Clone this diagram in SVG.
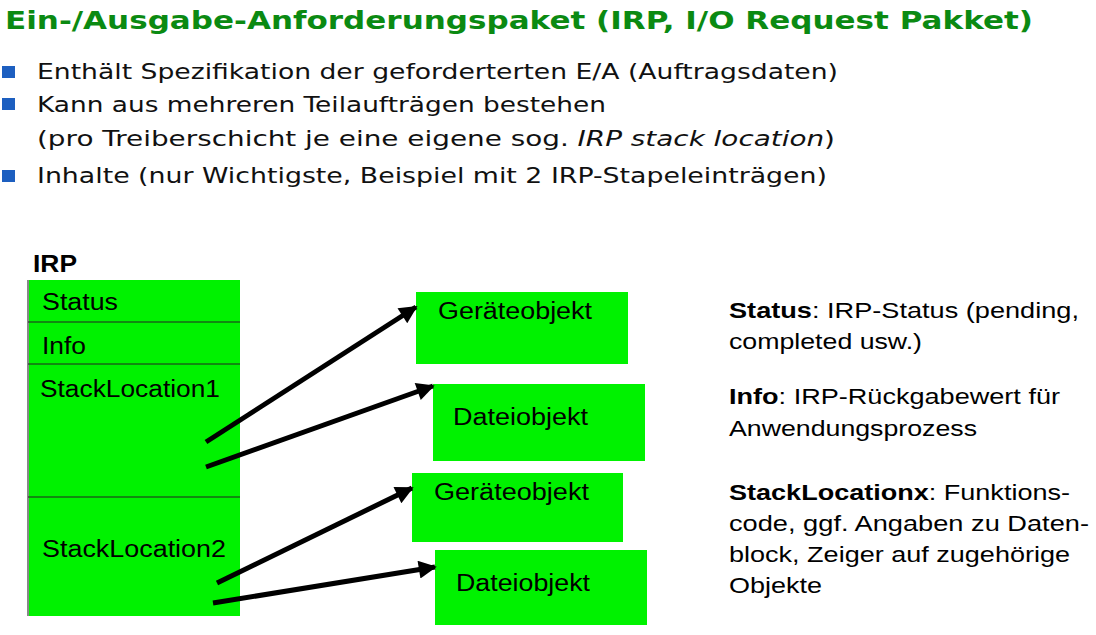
<svg xmlns="http://www.w3.org/2000/svg" width="1096" height="635" viewBox="0 0 1096 635">
  <style>
    .title { font-family: "DejaVu Sans", Verdana, sans-serif; font-weight: bold; font-size: 24px; fill: #0b8a12; }
    .bul { font-family: "DejaVu Sans", Verdana, sans-serif; font-size: 20.5px; fill: #111; }
    .sq { fill: #1d5fc0; }
    .lbl { font-family: "Liberation Sans", Arial, sans-serif; font-size: 23px; fill: #000; }
    .desc { font-family: "Liberation Sans", Arial, sans-serif; font-size: 22.5px; fill: #000; }
    .box { fill: #00f200; stroke: none; }
    .div { stroke: #222; stroke-width: 1; }
    .conn { stroke: #000; stroke-width: 5; fill: none; marker-end: url(#ah); }
  </style>
  <defs>
    <marker id="ah" viewBox="0 0 10 10" refX="9" refY="5" markerWidth="4.2" markerHeight="3.6" orient="auto" markerUnits="strokeWidth">
      <path d="M0,0 L10,5 L0,10 z" fill="#000"/>
    </marker>
  </defs>

  <rect width="1096" height="635" fill="#fff"/>

  <!-- heading and bullet list -->
  <g id="header">
    <text class="title" x="5" y="29" textLength="1028" lengthAdjust="spacingAndGlyphs">Ein-/Ausgabe-Anforderungspaket (IRP, I/O Request Pakket)</text>
    <rect class="sq" x="2" y="66" width="13" height="12"/>
    <text class="bul" x="37" y="79" textLength="801" lengthAdjust="spacingAndGlyphs">Enthält Spezifikation der geforderterten E/A (Auftragsdaten)</text>
    <rect class="sq" x="2" y="98" width="13" height="12"/>
    <text class="bul" x="37" y="112" textLength="569" lengthAdjust="spacingAndGlyphs">Kann aus mehreren Teilaufträgen bestehen</text>
    <text class="bul" x="37" y="146" textLength="798" lengthAdjust="spacingAndGlyphs">(pro Treiberschicht je eine eigene sog. <tspan font-style="italic">IRP stack location</tspan>)</text>
    <rect class="sq" x="2" y="170" width="13" height="12"/>
    <text class="bul" x="37" y="183" textLength="790" lengthAdjust="spacingAndGlyphs">Inhalte (nur Wichtigste, Beispiel mit 2 IRP-Stapeleinträgen)</text>
  </g>

  <!-- IRP structure -->
  <g id="irp">
    <text class="lbl" x="33" y="272" font-weight="bold" font-size="21" textLength="44" lengthAdjust="spacingAndGlyphs">IRP</text>
    <rect class="box" x="28" y="280" width="212" height="336" stroke="#222" stroke-width="1"/>
    <line x1="28" y1="280" x2="28" y2="616" stroke="#888" stroke-width="2"/>
    <line class="div" x1="28" y1="322" x2="240" y2="322"/>
    <line class="div" x1="28" y1="364" x2="240" y2="364"/>
    <line class="div" x1="28" y1="497" x2="240" y2="497"/>
    <text class="lbl" x="42" y="310" textLength="76" lengthAdjust="spacingAndGlyphs">Status</text>
    <text class="lbl" x="42" y="354" textLength="44" lengthAdjust="spacingAndGlyphs">Info</text>
    <text class="lbl" x="40" y="397" textLength="180" lengthAdjust="spacingAndGlyphs">StackLocation1</text>
    <text class="lbl" x="42" y="557" textLength="184" lengthAdjust="spacingAndGlyphs">StackLocation2</text>
  </g>

  <g id="geraet1">
    <rect class="box" x="416" y="292" width="212" height="72"/>
    <text class="lbl" x="438" y="319" textLength="154" lengthAdjust="spacingAndGlyphs">Geräteobjekt</text>
  </g>
  <g id="datei1">
    <rect class="box" x="433" y="384" width="212" height="77"/>
    <text class="lbl" x="453" y="425" textLength="135" lengthAdjust="spacingAndGlyphs">Dateiobjekt</text>
  </g>
  <g id="geraet2">
    <rect class="box" x="412" y="473" width="211" height="69"/>
    <text class="lbl" x="434" y="500" textLength="155" lengthAdjust="spacingAndGlyphs">Geräteobjekt</text>
  </g>
  <g id="datei2">
    <rect class="box" x="435" y="550" width="212" height="75"/>
    <text class="lbl" x="456" y="591" textLength="134" lengthAdjust="spacingAndGlyphs">Dateiobjekt</text>
  </g>

  <!-- pointers from stack locations to objects -->
  <g id="connectors">
    <line class="conn" x1="206" y1="442" x2="416" y2="307"/>
    <line class="conn" x1="206" y1="467" x2="433" y2="386"/>
    <line class="conn" x1="217" y1="583" x2="412" y2="488"/>
    <line class="conn" x1="213" y1="603" x2="435" y2="567"/>
  </g>

  <!-- field descriptions -->
  <g id="legend">
    <text class="desc" x="729" y="318" textLength="350" lengthAdjust="spacingAndGlyphs"><tspan font-weight="bold">Status</tspan>: IRP-Status (pending,</text>
    <text class="desc" x="729" y="349" textLength="193" lengthAdjust="spacingAndGlyphs">completed usw.)</text>
    <text class="desc" x="729" y="404" textLength="331" lengthAdjust="spacingAndGlyphs"><tspan font-weight="bold">Info</tspan>: IRP-Rückgabewert für</text>
    <text class="desc" x="729" y="436" textLength="248" lengthAdjust="spacingAndGlyphs">Anwendungsprozess</text>
    <text class="desc" x="729" y="500" textLength="341" lengthAdjust="spacingAndGlyphs"><tspan font-weight="bold">StackLocationx</tspan>: Funktions-</text>
    <text class="desc" x="729" y="531" textLength="360" lengthAdjust="spacingAndGlyphs">code, ggf. Angaben zu Daten-</text>
    <text class="desc" x="729" y="562" textLength="341" lengthAdjust="spacingAndGlyphs">block, Zeiger auf zugehörige</text>
    <text class="desc" x="729" y="593" textLength="93" lengthAdjust="spacingAndGlyphs">Objekte</text>
  </g>
</svg>
